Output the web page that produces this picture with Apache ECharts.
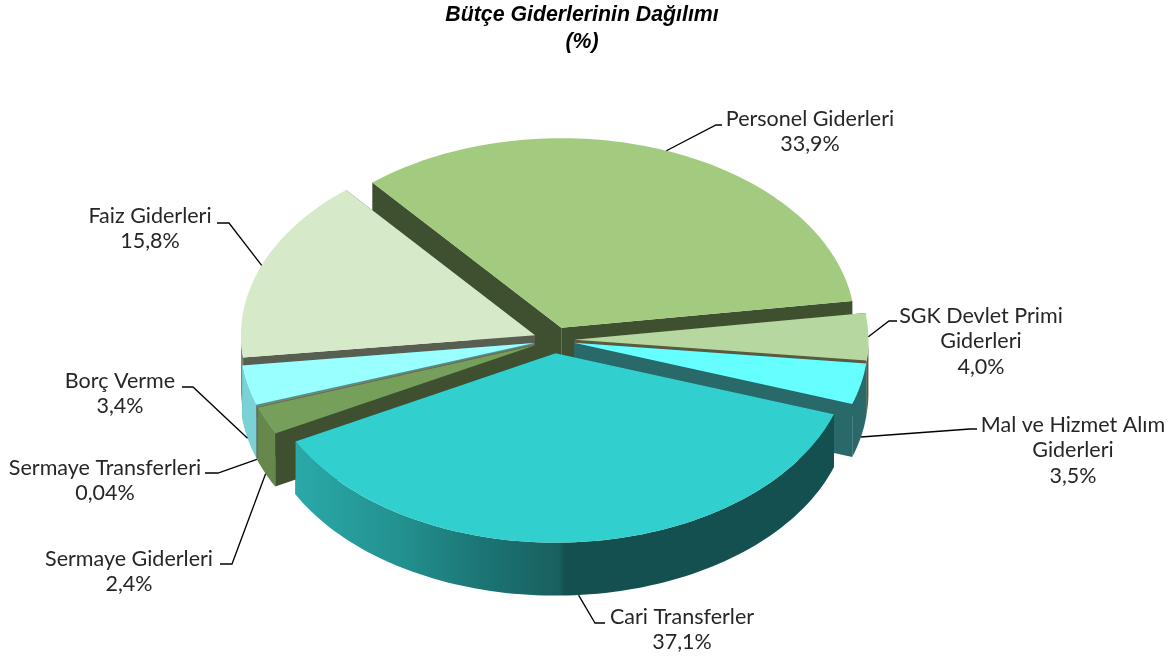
<!DOCTYPE html>
<html lang="tr">
<head>
    <meta charset="UTF-8">
    <title>Bütçe Giderlerinin Dağılımı</title>
    <script src="https://cdn.jsdelivr.net/npm/echarts@6/dist/echarts.min.js"></script>
    <style>
        html, body { margin: 0; padding: 0; background: #fff; }
        #main { width: 1176px; height: 659px; }
    </style>
</head>
<body>
<div id="main"></div>
<script>
    // data, clockwise from the back of the pie
    var categories = ['Personel Giderleri', 'SGK Devlet Primi\nGiderleri', 'Mal ve Hizmet Alım\nGiderleri',
        'Cari Transferler', 'Sermaye Giderleri', 'Sermaye Transferleri', 'Borç Verme', 'Faiz Giderleri'];
    var values = [33.9, 4.0, 3.5, 37.1, 2.4, 0.04, 3.4, 15.8];
    var valueLabels = ['33,9%', '4,0%', '3,5%', '37,1%', '2,4%', '0,04%', '3,4%', '15,8%'];

    // colours per slice: top, cut faces, outer wall
    var topColors = ['#a2cb80', '#b6d8a0', '#66ffff', '#32cfcf', '#759f5b', '#9a9a80', '#99ffff', '#d6e9c9'];
    var faceColors = ['#3f5030', '#5a5a40', '#29696a', '#155050', '#3f5030', '#6e6e58', '#4f8f90', '#585f50'];
    var wallColors = ['#3f5030', '#5a5a40', '#29696a', null, '#66884c', '#6e6e58', '#7ad2d6', '#7c8a70'];

    // pie shape
    var cx = 554, cy = 340, rx = 294, ry = 189.5, depth = 53, explode = 0.0695, startDeg = -40;
    // paint order, back to front
    var drawOrder = [0, 7, 1, 2, 6, 5, 4, 3];
    // label centre, first line y, and the elbow of the leader line
    var labelPos = [
        {x: 810, y: 106, ex: 716, ey: 125, tx: 722},
        {x: 981, y: 303, ex: 889, ey: 321, tx: 897},
        {x: 1073, y: 412, ex: 970, ey: 429, tx: 977},
        {x: 682, y: 604, ex: 595, ey: 623, tx: 605},
        {x: 129, y: 546, ex: 232, ey: 564, tx: 220},
        {x: 105, y: 455, ex: 218, ey: 473, tx: 205},
        {x: 120, y: 368, ex: 193, ey: 387, tx: 182},
        {x: 150, y: 203, ex: 229, ey: 223, tx: 217}
    ];

    var total = values.reduce(function (a, b) { return a + b; }, 0);
    var angles = [];
    var acc = startDeg;
    values.forEach(function (v) {
        var sweep = v / total * 360;
        angles.push([acc, acc + sweep]);
        acc += sweep;
    });

    function rad(d) { return d * Math.PI / 180; }

    function apexOf(i) {
        var mid = rad((angles[i][0] + angles[i][1]) / 2);
        return [cx + rx * explode * Math.sin(mid), cy - ry * explode * Math.cos(mid)];
    }

    function rimPoint(apex, deg, drop) {
        return [apex[0] + rx * Math.sin(rad(deg)), apex[1] - ry * Math.cos(rad(deg)) + drop];
    }

    function arc(apex, a0, a1, drop) {
        var pts = [];
        var n = Math.max(2, Math.ceil((a1 - a0) / 1.5));
        for (var k = 0; k <= n; k++) {
            pts.push(rimPoint(apex, a0 + (a1 - a0) * k / n, drop));
        }
        return pts;
    }

    function quad(apex, deg, fill) {
        var r = rimPoint(apex, deg, 0);
        return {
            type: 'polygon',
            shape: {points: [apex, r, [r[0], r[1] + depth], [apex[0], apex[1] + depth]]},
            style: {fill: fill}
        };
    }

    function renderSlice(params, api) {
        var i = api.value(0);
        var apex = apexOf(i);
        var a0 = angles[i][0], a1 = angles[i][1];
        var kids = [quad(apex, a0, faceColors[i]), quad(apex, a1, faceColors[i])];

        // only the part of the rim that faces the viewer has a wall
        var w0 = Math.max(a0, 90), w1 = Math.min(a1, 270);
        if (w1 > w0) {
            var fill = wallColors[i] || {
                type: 'linear', x: 0, y: 0, x2: 1, y2: 0,
                colorStops: [
                    {offset: 0, color: '#2aa9a9'},
                    {offset: 0.2, color: '#22908f'},
                    {offset: 0.35, color: '#1c7474'},
                    {offset: 0.49, color: '#18605f'},
                    {offset: 0.5, color: '#155050'},
                    {offset: 1, color: '#145050'}
                ]
            };
            kids.push({
                type: 'polygon',
                shape: {points: arc(apex, w0, w1, 0).concat(arc(apex, w0, w1, depth).reverse())},
                style: {fill: fill}
            });
        }

        kids.push({
            type: 'polygon',
            shape: {points: [apex].concat(arc(apex, a0, a1, 0))},
            style: {fill: topColors[i]}
        });
        return {type: 'group', children: kids};
    }

    function renderLabel(params, api) {
        var i = api.value(0);
        var apex = apexOf(i);
        var mid = (angles[i][0] + angles[i][1]) / 2;
        var front = Math.cos(rad(mid)) < 0;
        var p = labelPos[i];
        return {
            type: 'group',
            children: [{
                type: 'polyline',
                shape: {points: [rimPoint(apex, mid, front ? depth : 0), [p.ex, p.ey], [p.tx, p.ey]]},
                style: {stroke: '#000', lineWidth: 1.3, fill: null}
            }, {
                type: 'text',
                style: {
                    x: p.x, y: p.y,
                    text: categories[i] + '\n' + valueLabels[i],
                    fill: '#262626',
                    font: '21.5px Lato',
                    lineHeight: 25.5,
                    align: 'center',
                    verticalAlign: 'top'
                }
            }]
        };
    }

    var myChart = echarts.init(document.getElementById('main'));
    myChart.setOption({
        animation: false,
        title: {
            text: 'Bütçe Giderlerinin Dağılımı\n(%)',
            left: 577,
            top: -3,
            textAlign: 'center',
            textStyle: {
                fontFamily: 'Liberation Sans',
                fontSize: 21.3,
                fontWeight: 'bold',
                fontStyle: 'italic',
                color: '#000',
                lineHeight: 27
            }
        },
        series: [{
            type: 'custom',
            coordinateSystem: 'none',
            silent: true,
            renderItem: renderSlice,
            data: drawOrder.map(function (i) { return [i, values[i]]; })
        }, {
            type: 'custom',
            coordinateSystem: 'none',
            silent: true,
            z: 5,
            renderItem: renderLabel,
            data: values.map(function (v, i) { return [i, v]; })
        }]
    });
</script>
</body>
</html>
